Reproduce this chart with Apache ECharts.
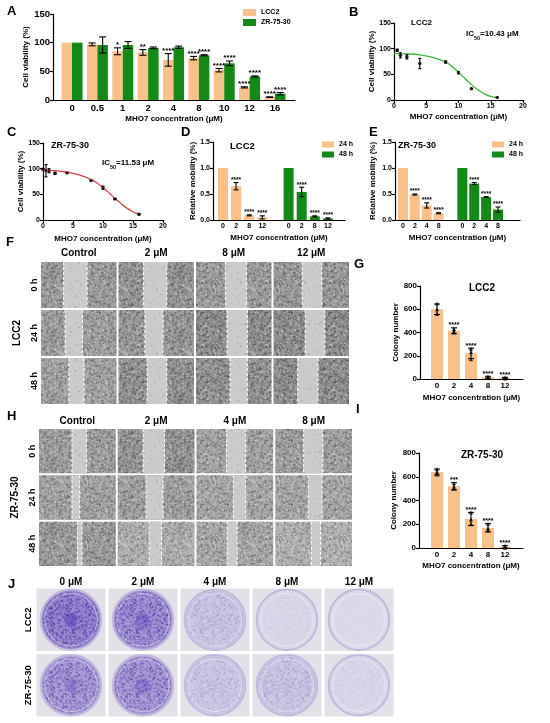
<!DOCTYPE html>
<html>
<head>
<meta charset="utf-8">
<script src="https://cdn.jsdelivr.net/npm/echarts@6/dist/echarts.min.js"></script>
<style>html,body{margin:0;padding:0;background:#fff}#main{width:550px;height:723px}</style>
</head>
<body>
<div id="main"></div>
<script>
var ORANGE = '#F9C18A', GREEN = '#138A17';
var FONT = '"Liberation Sans", Arial, sans-serif';

// A: cell viability bars
var aConc = ['0', '0.5', '1', '2', '4', '8', '10', '12', '16'];
var aLcc2 = [100, 97, 85, 83, 70, 73, 52, 22, 5];
var aLcc2Err = [0, 2.5, 6, 5, 11, 3, 3, 1, 0.5];
var aLcc2Sig = ['', '', '*', '**', '****', '****', '****', '****', '****'];
var aZr = [100, 96, 96, 91, 92, 78, 64, 41, 11];
var aZrErr = [0, 14, 6, 1.5, 2, 1, 4, 1, 2];
var aZrSig = ['', '', '', '', '', '****', '****', '****', '****'];

// B: LCC2 dose response
var bX = [0.5, 1, 2, 4, 8, 10, 12, 16];
var bY = [97, 87, 84, 71, 74, 53, 22, 5];
var bErr = [2, 5, 4, 10, 2, 2, 1, 0.5];
var fitX = [0, 2, 4, 6, 8, 9, 10, 11, 12, 13, 14, 15, 16];
var bFit = [91, 90, 88, 83, 74, 65, 54, 42, 30, 20, 12, 7, 4.5];

// C: ZR-75-30 dose response
var cX = [0, 0.5, 1, 2, 4, 8, 10, 12, 16];
var cY = [99, 96, 96, 91, 92, 77, 63, 41, 11];
var cErr = [1, 12, 4, 2, 1, 1, 3, 1, 1];
var cFit = [97, 96, 93, 88, 79, 72, 63, 53, 42, 32, 23, 16, 11];

// D / E: relative mobility
var dConc = ['0', '2', '8', '12'];
var d24 = [1.0, 0.65, 0.09, 0.05];
var d24Err = [0, 0.07, 0.01, 0.03];
var d48 = [1.0, 0.54, 0.07, 0.03];
var d48Err = [0, 0.09, 0.01, 0.01];
var eConc = ['0', '2', '4', '8'];
var e24 = [1.0, 0.49, 0.28, 0.13];
var e24Err = [0, 0.01, 0.05, 0.01];
var e48 = [1.0, 0.70, 0.44, 0.20];
var e48Err = [0, 0.02, 0.01, 0.05];
var mobSig = ['', '****', '****', '****'];

// G / I: colony numbers
var colConc = ['0', '2', '4', '8', '12'];
var gMean = [600, 415, 220, 15, 8];
var gErr = [45, 25, 45, 8, 6];
var gReps = [[650, 600, 560], [430, 410, 400], [260, 230, 170], [20, 10, 15], [10, 5, 8]];
var gSig = ['', '****', '****', '****', '****'];
var iMean = [640, 520, 245, 170, 10];
var iErr = [25, 30, 55, 35, 10];
var iReps = [[665, 640, 620], [545, 515, 500], [300, 240, 200], [205, 165, 150], [20, 5, 5]];
var iSig = ['', '***', '****', '****', '****'];

// F / H: wound photos, gap edges as fraction of image width, cell density 0..1
var fCols = ['Control', '2 μM', '8 μM', '12 μM'];
var hCols = ['Control', '2 μM', '4 μM', '8 μM'];
var hours = ['0 h', '24 h', '48 h'];
var fGaps = [
  [[0.30, 0.61], [0.33, 0.64], [0.39, 0.67], [0.38, 0.64]],
  [[0.32, 0.55], [0.35, 0.59], [0.41, 0.68], [0.42, 0.68]],
  [[0.37, 0.57], [0.38, 0.64], [0.45, 0.68], [0.32, 0.59]]
];
var fDensity = [[0.6, 0.7, 0.6, 0.65], [0.55, 0.65, 0.8, 0.8], [0.5, 0.75, 0.75, 0.8]];
var hGaps = [
  [[0.43, 0.62], [0.33, 0.61], [0.39, 0.64], [0.37, 0.62]],
  [[0.43, 0.53], [0.37, 0.59], [0.48, 0.64], [0.43, 0.61]],
  [[0.50, 0.56], [0.41, 0.57], [0.40, 0.53], [0.47, 0.59]]
];
var hDensity = [[0.55, 0.7, 0.5, 0.55], [0.5, 0.55, 0.45, 0.45], [0.6, 0.35, 0.45, 0.3]];

// J: crystal violet plates, stain 0..1
var jCols = ['0 μM', '2 μM', '4 μM', '8 μM', '12 μM'];
var jRows = ['LCC2', 'ZR-75-30'];
var jStain = [[0.85, 0.72, 0.22, 0.06, 0.03], [0.62, 0.64, 0.2, 0.22, 0.07]];

var groupPos = [0, 1, 2, 3, 5, 6, 7, 8];

// grain texture for the photo panels (fixed seed, same every run)
function grain(size, rgb, count, seed) {
  var cv = document.createElement('canvas');
  cv.width = cv.height = size;
  var ctx = cv.getContext('2d');
  var s = seed;
  function next() { s = (s * 16807) % 2147483647; return s / 2147483647; }
  for (var i = 0; i < count; i++) {
    var x = next() * size, y = next() * size, a = 0.15 + 0.55 * next(), r = 0.6 + 1.2 * next();
    ctx.fillStyle = 'rgba(' + rgb + ',' + a.toFixed(2) + ')';
    ctx.fillRect(x, y, r, r);
  }
  return cv;
}
var darkGrain = grain(64, '40,40,40', 1200, 7);
var lightGrain = grain(64, '245,245,245', 800, 11);
var gapGrain = grain(64, '120,120,120', 120, 5);
var violetGrain = grain(64, '80,50,170', 1500, 3);

function bold(size) {
  return { color: '#000', fontSize: size, fontWeight: 'bold', fontFamily: FONT };
}

function axisBase(fs) {
  return {
    axisLine: { show: true, onZero: false, lineStyle: { color: '#000', width: 1.2 } },
    axisTick: { show: true, length: 3, lineStyle: { color: '#000', width: 1.2 } },
    axisLabel: Object.assign(bold(fs), { margin: 3 }),
    splitLine: { show: false },
    nameTextStyle: bold(8)
  };
}

function posAxis(grid, min, max, pos, labels, fs, gap) {
  var ax = axisBase(fs);
  ax.type = 'value';
  ax.gridIndex = grid;
  ax.min = min;
  ax.max = max;
  ax.name = 'MHO7 concentration (μM)';
  ax.nameLocation = 'middle';
  ax.nameGap = gap;
  ax.axisTick = { show: false };
  ax.axisLabel.customValues = pos;
  ax.axisLabel.formatter = function (v) {
    var k = pos.indexOf(Math.round(v));
    return k < 0 ? '' : labels[k];
  };
  return ax;
}

function valAxis(grid, min, max, step, fs, name, gap, digits) {
  var ax = axisBase(fs);
  ax.type = 'value';
  ax.gridIndex = grid;
  ax.min = min;
  ax.max = max;
  ax.interval = step;
  ax.name = name;
  ax.nameLocation = 'middle';
  ax.nameGap = gap;
  if (digits) ax.axisLabel.formatter = function (v) { return v.toFixed(digits); };
  return ax;
}

function photoAxes(grid, cols, rows, fsCol, fsRow, rowName, colMargin, rowMargin) {
  var x = {
    type: 'category', gridIndex: grid, data: cols, position: 'top',
    axisLine: { show: false }, axisTick: { show: false },
    axisLabel: Object.assign(bold(fsCol), { margin: colMargin })
  };
  var y = {
    type: 'category', gridIndex: grid, data: rows, inverse: true,
    axisLine: { show: false }, axisTick: { show: false },
    axisLabel: Object.assign(bold(fsRow), { margin: rowMargin, rotate: 90 }),
    name: rowName, nameLocation: 'middle', nameGap: 12, nameRotate: 90,
    nameTextStyle: bold(10)
  };
  return [x, y];
}

function errSeries(axis, xs, means, errs, sigs, fs, capW) {
  var pts = xs.map(function (x, i) { return [x, means[i], errs[i]]; });
  return {
    type: 'custom', xAxisIndex: axis, yAxisIndex: axis, silent: true, z: 5,
    data: pts,
    renderItem: function (params, api) {
      var x = api.value(0), m = api.value(1), e = api.value(2);
      var hi = api.coord([x, m + e]), lo = api.coord([x, m - e]);
      var kids = [];
      var st = { stroke: '#000', lineWidth: 1.1 };
      if (e > 0) {
        kids.push({ type: 'line', shape: { x1: hi[0], y1: hi[1], x2: lo[0], y2: lo[1] }, style: st });
        kids.push({ type: 'line', shape: { x1: hi[0] - capW, y1: hi[1], x2: hi[0] + capW, y2: hi[1] }, style: st });
        kids.push({ type: 'line', shape: { x1: lo[0] - capW, y1: lo[1], x2: lo[0] + capW, y2: lo[1] }, style: st });
      }
      var sig = sigs ? sigs[params.dataIndex] : '';
      if (sig) {
        kids.push({
          type: 'text',
          style: { text: sig, x: hi[0], y: hi[1] + 1, align: 'center', verticalAlign: 'bottom',
            font: 'bold ' + fs + 'px ' + FONT, fill: '#000' }
        });
      }
      return { type: 'group', children: kids };
    }
  };
}

function barSeries(name, axis, xs, vals, color, width) {
  return {
    name: name, type: 'bar', xAxisIndex: axis, yAxisIndex: axis,
    data: xs.map(function (x, i) { return [x, vals[i]]; }),
    barWidth: width, barGap: '-100%', itemStyle: { color: color }
  };
}

function gray(d) {
  var g = Math.round(200 - 70 * d);
  return 'rgb(' + g + ',' + g + ',' + g + ')';
}

function scratchSeries(axis, gaps, density) {
  var data = [];
  gaps.forEach(function (row, r) {
    row.forEach(function (gp, c) { data.push([c, r, gp[0], gp[1], density[r][c]]); });
  });
  return {
    type: 'custom', xAxisIndex: axis, yAxisIndex: axis, silent: true, data: data,
    renderItem: function (params, api) {
      var c = api.coord([api.value(0), api.value(1)]);
      var s = api.size([1, 1]);
      var x0 = c[0] - s[0] / 2 + 1, y0 = c[1] - s[1] / 2 + 1, w = s[0] - 2, h = s[1] - 2;
      var gl = x0 + w * api.value(2), gr = x0 + w * api.value(3);
      var d = api.value(4);
      var dash = { stroke: '#fff', lineWidth: 1, lineDash: [3, 2] };
      var cell = { x: x0, y: y0, width: w, height: h };
      var gap = { x: gl, y: y0, width: gr - gl, height: h };
      return {
        type: 'group', children: [
          { type: 'rect', shape: cell, style: { fill: gray(d) } },
          { type: 'rect', shape: cell, style: { fill: { image: darkGrain, repeat: 'repeat' }, opacity: 0.35 + 0.45 * d } },
          { type: 'rect', shape: cell, style: { fill: { image: lightGrain, repeat: 'repeat' }, opacity: 0.6 } },
          { type: 'rect', shape: gap, style: { fill: '#cbcbcb' } },
          { type: 'rect', shape: gap, style: { fill: { image: gapGrain, repeat: 'repeat' }, opacity: 0.6 } },
          { type: 'line', shape: { x1: gl, y1: y0, x2: gl, y2: y0 + h }, style: dash },
          { type: 'line', shape: { x1: gr, y1: y0, x2: gr, y2: y0 + h }, style: dash }
        ]
      };
    }
  };
}

function mix(a, b, t) {
  var r = a.map(function (v, i) { return Math.round(v + (b[i] - v) * t); });
  return 'rgb(' + r.join(',') + ')';
}

function plateSeries(axis) {
  var data = [];
  jStain.forEach(function (row, r) {
    row.forEach(function (v, c) { data.push([c, r, v]); });
  });
  return {
    type: 'custom', xAxisIndex: axis, yAxisIndex: axis, silent: true, data: data,
    renderItem: function (params, api) {
      var c = api.coord([api.value(0), api.value(1)]);
      var s = api.size([1, 1]);
      var t = api.value(2);
      var w = s[0] - 3, h = s[1] - 3;
      var rad = Math.min(w, h) / 2;
      var disc = { cx: c[0], cy: c[1], r: rad - 1 };
      return {
        type: 'group', children: [
          { type: 'rect', shape: { x: c[0] - w / 2, y: c[1] - h / 2, width: w, height: h }, style: { fill: '#e2e1e8' } },
          { type: 'circle', shape: disc, style: { fill: mix([224, 222, 234], [140, 122, 200], t), stroke: '#c1b9de', lineWidth: 2 } },
          { type: 'circle', shape: { cx: c[0], cy: c[1], r: rad - 3 }, style: { fill: { image: violetGrain, repeat: 'repeat' }, opacity: Math.min(1, t * 1.3) } },
          { type: 'circle', shape: { cx: c[0], cy: c[1], r: rad - 5 }, style: { fill: 'none', stroke: 'rgba(255,255,255,0.45)', lineWidth: 1 } },
          { type: 'circle', shape: { cx: c[0], cy: c[1], r: rad * 0.22 }, style: { fill: 'rgb(80,50,185)', opacity: t * t * 0.6 } }
        ]
      };
    }
  };
}

var aPos = aConc.map(function (_, i) { return i; });
var colPos = colConc.map(function (_, i) { return i; });
function shift(arr, d) { return arr.map(function (v) { return v + d; }); }

var fAx = photoAxes(7, fCols, hours, 10, 9, 'LCC2', 3, 1);
var hAx = photoAxes(8, hCols, hours, 10, 9, 'ZR-75-30', 2, 1);
hAx[1].nameGap = 13;
var jAx = photoAxes(9, jCols, jRows, 10, 9.5, '', 0, 2);

var letters = [['A', 7, 5], ['B', 349, 6], ['C', 7, 126], ['D', 181, 126], ['E', 369, 126],
  ['F', 6, 236], ['G', 354, 258], ['H', 7, 410], ['I', 356, 403], ['J', 8, 578]];

var titles = letters.map(function (l) {
  return { text: l[0], left: l[1], top: l[2], padding: 0, textStyle: bold(13) };
});
var icRich = {
  t: Object.assign(bold(8), { verticalAlign: 'top', lineHeight: 11 }),
  s: Object.assign(bold(5.5), { verticalAlign: 'bottom', lineHeight: 11 })
};
titles.push(
  { text: 'LCC2', left: 411, top: 19, padding: 0, textStyle: bold(8) },
  { text: '{t|IC}{s|50}{t|=10.43 μM}', left: 466, top: 30, padding: 0, textStyle: { rich: icRich } },
  { text: 'ZR-75-30', left: 51, top: 141, padding: 0, textStyle: bold(9) },
  { text: '{t|IC}{s|50}{t|=11.53 μM}', left: 102, top: 159, padding: 0, textStyle: { rich: icRich } },
  { text: 'LCC2', left: 230, top: 141, padding: 0, textStyle: bold(9.5) },
  { text: 'ZR-75-30', left: 398, top: 141, padding: 0, textStyle: bold(9) },
  { text: 'LCC2', left: 482, top: 283, padding: 0, textAlign: 'center', textStyle: bold(10) },
  { text: 'ZR-75-30', left: 482, top: 450, padding: 0, textAlign: 'center', textStyle: bold(10) }
);

var option = {
  backgroundColor: '#fff',
  animation: false,
  title: titles,
  legend: [
    { left: 243, top: 9, orient: 'vertical', itemWidth: 13, itemHeight: 7, itemGap: 3, padding: 0,
      icon: 'rect', textStyle: bold(7), data: ['LCC2', 'ZR-75-30'] },
    { left: 322, top: 141, orient: 'vertical', itemWidth: 12, itemHeight: 6, itemGap: 3, padding: 0,
      icon: 'rect', textStyle: bold(7), data: ['24 h', '48 h'] },
    { left: 492, top: 141, orient: 'vertical', itemWidth: 12, itemHeight: 6, itemGap: 3, padding: 0,
      icon: 'rect', textStyle: bold(7), data: ['24 h', '48 h'] }
  ],
  grid: [
    { left: 53, top: 14, width: 242, height: 86 },
    { left: 394, top: 23, width: 129, height: 77 },
    { left: 43, top: 143, width: 120, height: 77 },
    { left: 213, top: 142, width: 132, height: 78 },
    { left: 395, top: 142, width: 125, height: 78 },
    { left: 420, top: 286, width: 103, height: 93 },
    { left: 419, top: 453, width: 104, height: 95 },
    { left: 40, top: 261, width: 310, height: 144 },
    { left: 38, top: 428, width: 315, height: 139 },
    { left: 35, top: 587, width: 360, height: 131 }
  ],
  xAxis: [
    posAxis(0, -0.75, 8.79, aPos, aConc, 9.5, 15),
    valAxis(1, 0, 20, 5, 7, 'MHO7 concentration (μM)', 13),
    valAxis(2, 0, 20, 5, 7, 'MHO7 concentration (μM)', 15),
    posAxis(3, -0.76, 9.3, groupPos, dConc.concat(dConc), 7, 14),
    posAxis(4, -0.67, 9.85, groupPos, eConc.concat(eConc), 7, 14),
    posAxis(5, -1.0, 5.06, colPos, colConc, 8, 15),
    posAxis(6, -1.06, 5.06, colPos, colConc, 8, 14),
    fAx[0], hAx[0], jAx[0]
  ],
  yAxis: [
    valAxis(0, 0, 150, 50, 9.5, 'Cell viability (%)', 22),
    valAxis(1, 0, 150, 50, 7, 'Cell viability (%)', 17),
    valAxis(2, 0, 150, 50, 7, 'Cell viability (%)', 17),
    valAxis(3, 0, 1.5, 0.5, 7, 'Relative mobility (%)', 12, 1),
    valAxis(4, 0, 1.5, 0.5, 7, 'Relative mobility (%)', 18, 1),
    valAxis(5, 0, 800, 200, 8, 'Colony number', 20),
    valAxis(6, 0, 800, 200, 8, 'Colony number', 21),
    fAx[1], hAx[1], jAx[1]
  ],
  series: [
    barSeries('LCC2', 0, shift(aPos, -0.207), aLcc2, ORANGE, 10.5),
    barSeries('ZR-75-30', 0, shift(aPos, 0.207), aZr, GREEN, 10.5),
    errSeries(0, shift(aPos, -0.207), aLcc2, aLcc2Err, aLcc2Sig, 8, 3.5),
    errSeries(0, shift(aPos, 0.207), aZr, aZrErr, aZrSig, 8, 3.5),

    { type: 'line', xAxisIndex: 1, yAxisIndex: 1, smooth: true, showSymbol: false, silent: true,
      data: fitX.map(function (x, i) { return [x, bFit[i]]; }), lineStyle: { color: '#3CB93C', width: 1.3 } },
    { type: 'scatter', xAxisIndex: 1, yAxisIndex: 1, symbolSize: 3.5, itemStyle: { color: '#000' }, silent: true,
      data: bX.map(function (x, i) { return [x, bY[i]]; }) },
    errSeries(1, bX, bY, bErr, null, 7, 1.5),

    { type: 'line', xAxisIndex: 2, yAxisIndex: 2, smooth: true, showSymbol: false, silent: true,
      data: fitX.map(function (x, i) { return [x, cFit[i]]; }), lineStyle: { color: '#E04048', width: 1.3 } },
    { type: 'scatter', xAxisIndex: 2, yAxisIndex: 2, symbolSize: 3.5, itemStyle: { color: '#000' }, silent: true,
      data: cX.map(function (x, i) { return [x, cY[i]]; }) },
    errSeries(2, cX, cY, cErr, null, 7, 1.5),

    barSeries('24 h', 3, groupPos.slice(0, 4), d24, ORANGE, 10),
    barSeries('48 h', 3, groupPos.slice(4), d48, GREEN, 10),
    errSeries(3, groupPos.slice(0, 4), d24, d24Err, mobSig, 6.5, 2.5),
    errSeries(3, groupPos.slice(4), d48, d48Err, mobSig, 6.5, 2.5),

    barSeries('24 h', 4, groupPos.slice(0, 4), e24, ORANGE, 10),
    barSeries('48 h', 4, groupPos.slice(4), e48, GREEN, 10),
    errSeries(4, groupPos.slice(0, 4), e24, e24Err, mobSig, 6.5, 2.5),
    errSeries(4, groupPos.slice(4), e48, e48Err, mobSig, 6.5, 2.5),

    barSeries('G', 5, colPos, gMean, ORANGE, 12),
    errSeries(5, colPos, gMean, gErr, gSig, 7, 3),
    { type: 'scatter', xAxisIndex: 5, yAxisIndex: 5, symbol: 'triangle', symbolSize: 4, silent: true, z: 6,
      itemStyle: { color: '#000' },
      data: [].concat.apply([], gReps.map(function (r, i) { return r.map(function (v) { return [i, v]; }); })) },

    barSeries('I', 6, colPos, iMean, ORANGE, 12),
    errSeries(6, colPos, iMean, iErr, iSig, 7, 3),
    { type: 'scatter', xAxisIndex: 6, yAxisIndex: 6, symbol: 'triangle', symbolSize: 4, silent: true, z: 6,
      itemStyle: { color: '#000' },
      data: [].concat.apply([], iReps.map(function (r, i) { return r.map(function (v) { return [i, v]; }); })) },

    scratchSeries(7, fGaps, fDensity),
    scratchSeries(8, hGaps, hDensity),
    plateSeries(9)
  ]
};

var chart = echarts.init(document.getElementById('main'));
chart.setOption(option);
</script>
</body>
</html>
